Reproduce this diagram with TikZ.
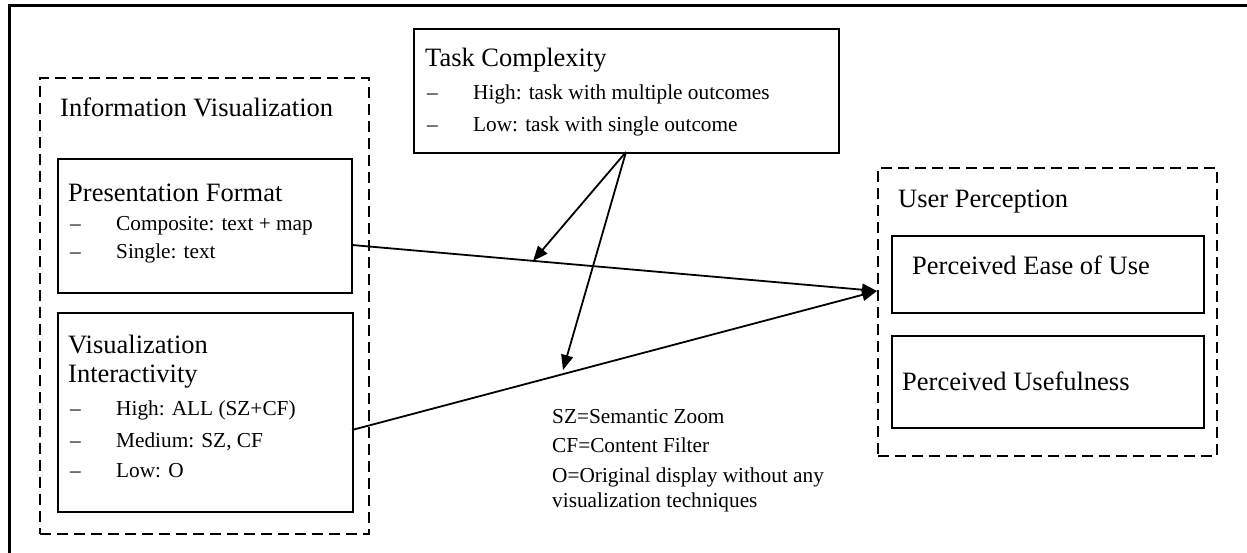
\documentclass[tikz,border=0pt]{standalone}
\usepackage{fontspec}
\setmainfont{Liberation Serif}
\usetikzlibrary{arrows.meta}
\tikzset{
  solidbox/.style={draw, line width=1.8pt, inner sep=0pt, anchor=north west},
  dashbox/.style={draw, line width=1.8pt, dash pattern=on 11pt off 6pt, inner sep=0pt, anchor=north west},
  head/.style={anchor=base west, inner sep=0pt, font=\fontsize{26.5}{30}\selectfont},
  item/.style={anchor=base west, inner sep=0pt, font=\fontsize{21.3}{25}\selectfont},
  conn/.style={line width=1.8pt},
  arr/.style={line width=1.8pt, -{Triangle[length=15pt,width=12pt]}}
}
\begin{document}
\begin{tikzpicture}[x=1pt,y=-1pt]
\useasboundingbox (0,0) rectangle (1247,553);
% outer frame (top and left only)
\coordinate (ftl) at (9,6);
\coordinate (ftr) at (1247,6);
\coordinate (fbl) at (9,553);
\draw[line width=3pt] (ftr) -- (ftl) -- (fbl);

% Information Visualization group
\node[dashbox, minimum width=329pt, minimum height=456pt] (iv) at (39,77) {};
\node[head] (ivt) at (60,117) {Information Visualization};

\node[solidbox, minimum width=294pt, minimum height=134pt] (pf) at (57,158) {};
\node[head] (pft) at (68,202) {Presentation Format};
\node[item] (pfd1) at (70,231) {–};
\node[item] (pf1) at (116,231) {Composite: text + map};
\node[item] (pfd2) at (70,259) {–};
\node[item] (pf2) at (116,259) {Single: text};

\node[solidbox, minimum width=295pt, minimum height=199pt] (vi) at (57,312) {};
\node[head] (vit1) at (68,353) {Visualization};
\node[head] (vit2) at (68,382) {Interactivity};
\node[item] (vid1) at (70,415) {–};
\node[item] (vi1) at (116,415) {High: ALL (SZ+CF)};
\node[item] (vid2) at (70,447) {–};
\node[item] (vi2) at (116,447) {Medium: SZ, CF};
\node[item] (vid3) at (70,477) {–};
\node[item] (vi3) at (116,477) {Low: O};

% Task Complexity
\node[solidbox, minimum width=425pt, minimum height=124pt] (tc) at (413,28) {};
\node[head] (tct) at (425,67) {Task Complexity};
\node[item] (tcd1) at (427,100) {–};
\node[item] (tc1) at (473,100) {High: task with multiple outcomes};
\node[item] (tcd2) at (427,132) {–};
\node[item] (tc2) at (473,132) {Low: task with single outcome};

% User Perception group
\node[dashbox, minimum width=339pt, minimum height=288pt] (up) at (877,167) {};
\node[head] (upt) at (898,208) {User Perception};
\node[solidbox, minimum width=312pt, minimum height=77pt] (peou) at (891,235) {};
\node[head] (peout) at (912,275) {Perceived Ease of Use};
\node[solidbox, minimum width=312pt, minimum height=92pt] (pu) at (891,335) {};
\node[head] (put) at (902,390) {Perceived Usefulness};

% Legend
\node[item] (lg1) at (552,423) {SZ=Semantic Zoom};
\node[item] (lg2) at (552,452) {CF=Content Filter};
\node[item] (lg3) at (552,482) {O=Original display without any};
\node[item] (lg4) at (552,507) {visualization techniques};

% connectors
\coordinate (pfout) at (352,245);
\coordinate (viout) at (352,430);
\coordinate (upin) at (877,291);
\coordinate (tcout) at (626,152);
\coordinate (m1) at (533,261);
\coordinate (m2) at (563,370);
\draw[arr] (pfout) -- (upin);
\draw[arr] (viout) -- (upin);
\draw[arr] (tcout) -- (m1);
\draw[arr] (tcout) -- (m2);
\end{tikzpicture}
\end{document}
